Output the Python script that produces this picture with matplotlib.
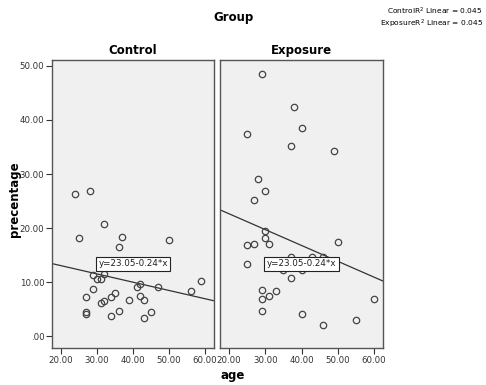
import numpy as np
import matplotlib
matplotlib.use("Agg")
import matplotlib.pyplot as plt
from matplotlib.ticker import FuncFormatter

# values
control_age = [24, 28, 32, 25, 37, 36, 50, 29, 30, 31, 32, 42, 41, 47, 59, 56,
               29, 27, 35, 34, 39, 42, 43, 31, 32, 27, 27, 36, 45, 34, 43]
control_pct = [26.3, 26.8, 20.8, 18.2, 18.3, 16.4, 17.8, 11.4, 10.65, 10.65, 11.5,
               9.7, 9.0, 9.0, 10.2, 8.4, 8.8, 7.25, 8.05, 7.2, 6.6, 7.4, 6.6,
               6.2, 6.45, 4.45, 4.0, 4.65, 4.45, 3.8, 3.4]
exposure_age = [29, 38, 40, 25, 37, 49, 28, 30, 27, 30, 30, 25, 27, 31, 50, 25,
                37, 43, 46, 35, 40, 37, 29, 33, 29, 31, 60, 29, 40, 55, 46]
exposure_pct = [48.6, 42.4, 38.5, 37.4, 35.2, 34.2, 29.0, 26.8, 25.1, 19.4, 18.2,
                16.9, 17.0, 17.0, 17.5, 13.3, 14.7, 14.7, 14.7, 12.3, 12.2, 10.8,
                8.6, 8.4, 6.8, 7.4, 6.8, 4.65, 4.0, 3.0, 2.0]

# fitted lines (intercept, slope) as drawn
control_fit = (16.1, -0.153)
exposure_fit = (28.5, -0.293)
fit_label = "y=23.05-0.24*x"

groups = ["Control", "Exposure"]
xticks = [20, 30, 40, 50, 60]
yticks = [0, 10, 20, 30, 40, 50]
xlim = (17.5, 62.5)
ylim = (-2.2, 51.1)

bg = "#f0f0f0"
edge = "#444444"

def fmt(v, pos):
    s = "%.2f" % v
    if s.startswith("0."):
        s = s[1:]
    return s

fig = plt.figure(figsize=(4.86, 3.85), dpi=100)
ax1 = fig.add_axes([52/486, 37/385, 162/486, 288/385])
ax2 = fig.add_axes([220/486, 37/385, 163/486, 288/385])

data = [(control_age, control_pct, control_fit), (exposure_age, exposure_pct, exposure_fit)]

for ax, name, (ages, pcts, fit) in zip([ax1, ax2], groups, data):
    ax.set_facecolor(bg)
    ax.plot(ages, pcts, "o", ms=4.6, mfc="none", mec=edge, mew=0.9, zorder=3)
    xs = np.array(xlim)
    ax.plot(xs, fit[0] + fit[1]*xs, color="#333333", lw=0.9, zorder=2)
    ax.text(40, 13.4, fit_label, ha="center", va="center", fontsize=6.3,
            color="#222222", zorder=4,
            bbox=dict(boxstyle="square,pad=0.3", fc="white", ec="#222222", lw=0.8))
    ax.set_xlim(xlim)
    ax.set_ylim(ylim)
    ax.set_xticks(xticks)
    ax.set_yticks(yticks)
    ax.xaxis.set_major_formatter(FuncFormatter(fmt))
    ax.yaxis.set_major_formatter(FuncFormatter(fmt))
    ax.tick_params(labelsize=6.2, colors="#333333", length=4, width=0.8, pad=1.5)
    for s in ax.spines.values():
        s.set_color("#555555")
        s.set_linewidth(1.0)
    ax.set_title(name, fontsize=8.5, fontweight="bold", pad=4)

ax2.tick_params(axis="y", left=False, labelleft=False)

fig.text(233/486, 1 - 17/385, "Group", ha="center", va="center", fontsize=8.5, fontweight="bold")
fig.text(233/486, 1 - 376/385, "age", ha="center", va="center", fontsize=8.5, fontweight="bold")
fig.text(15/486, 1 - 199/385, "precentage", ha="center", va="center", rotation=90,
         fontsize=8.5, fontweight="bold")
fig.text(483/486, 1 - 11.5/385, "ControlR$^2$ Linear = 0.045", ha="right", va="center", fontsize=5.4)
fig.text(483/486, 1 - 23.5/385, "ExposureR$^2$ Linear = 0.045", ha="right", va="center", fontsize=5.4)

fig.savefig("out.png", dpi=100)
